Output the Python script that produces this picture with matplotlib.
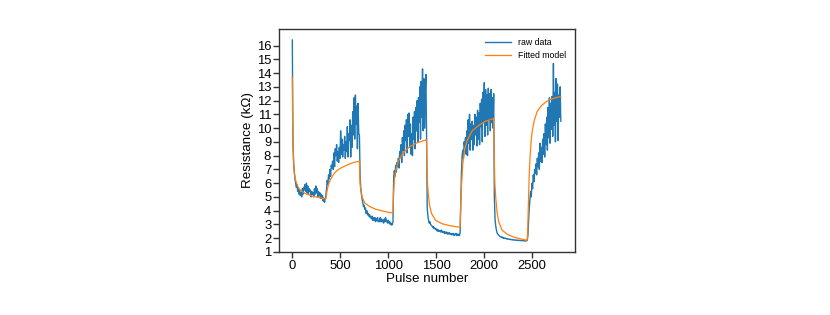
import numpy as np
import matplotlib
matplotlib.use("Agg")
import matplotlib.pyplot as plt

plt.rcParams['font.family'] = ['Liberation Sans', 'DejaVu Sans']

# ---------------- data ----------------
raw_step = 7  # pulse spacing of sampled raw points

raw_seg1 = [16.4, 8.9, 7.4, 6.8, 6.3, 6.0, 5.7, 5.9, 5.4, 5.6, 5.2, 5.5, 5.1, 5.3, 5.0, 5.6, 5.2, 5.7, 5.5, 5.9,
            5.4, 6.0, 5.3, 5.8, 5.2, 5.6, 5.4, 5.5, 5.0, 5.4, 5.2, 5.3, 5.0, 5.6, 5.2, 5.8, 5.3, 5.6, 5.0, 5.4,
            5.1, 5.3, 4.9, 5.2, 4.9, 5.1, 4.7, 4.9, 4.6, 4.9]
raw_seg2 = [5.1, 5.6, 6.2, 5.9, 6.6, 6.3, 7.0, 6.5, 7.3, 7.1, 7.6, 7.0, 8.2, 7.2, 8.5, 8.0, 8.8, 7.6, 8.3, 7.5,
            8.6, 7.8, 9.8, 8.1, 9.2, 7.9, 8.8, 8.4, 9.4, 7.8, 9.0, 8.3, 10.1, 7.9, 9.6, 9.1, 10.6, 7.9, 10.2, 8.6,
            11.2, 9.5, 12.2, 9.2, 12.4, 10.3, 11.6, 8.5, 11.8, 9.6]
raw_seg3 = [9.5, 6.5, 5.6, 5.2, 4.8, 4.6, 4.3, 4.4, 4.1, 4.2, 3.8, 4.0, 3.7, 3.8, 3.6, 3.7, 3.5, 3.6, 3.4, 3.6,
            3.3, 3.5, 3.3, 3.5, 3.2, 3.4, 3.3, 3.5, 3.2, 3.3, 3.2, 3.5, 3.2, 3.4, 3.2, 3.3, 3.1, 3.4, 3.2, 3.5,
            3.2, 3.3, 3.1, 3.3, 3.1, 3.2, 3.0, 3.1, 2.95, 3.0]
raw_seg4 = [3.2, 6.4, 6.9, 6.5, 7.3, 6.8, 7.5, 7.2, 7.8, 7.1, 8.3, 7.9, 8.8, 7.5, 9.3, 8.4, 9.8, 8.0, 10.2, 9.1,
            10.6, 8.2, 11.0, 9.4, 11.1, 8.6, 10.3, 8.1, 9.6, 8.0, 10.8, 9.2, 11.2, 8.5, 11.5, 9.8, 12.0, 9.0, 12.2, 10.4,
            13.0, 9.2, 13.4, 10.8, 14.3, 9.8, 13.6, 10.0, 12.5, 13.9]
raw_seg5 = [9.5, 4.2, 3.6, 3.3, 3.1, 3.2, 3.0, 2.95, 2.9, 2.8, 2.85, 2.7, 2.75, 2.65, 2.7, 2.55, 2.65, 2.5, 2.6, 2.5,
            2.55, 2.45, 2.6, 2.45, 2.5, 2.4, 2.5, 2.35, 2.45, 2.35, 2.45, 2.3, 2.4, 2.3, 2.4, 2.3, 2.35, 2.25, 2.35, 2.25,
            2.35, 2.2, 2.3, 2.25, 2.35, 2.2, 2.3, 2.2, 2.3, 2.2]
raw_seg6 = [2.4, 4.5, 6.8, 8.0, 8.4, 7.8, 9.0, 8.6, 9.3, 8.1, 9.8, 8.0, 10.6, 8.9, 11.0, 8.4, 10.3, 9.2, 10.5, 8.4,
            10.2, 8.8, 11.0, 9.5, 10.8, 8.7, 11.3, 9.2, 11.1, 8.8, 11.8, 10.1, 12.1, 9.0, 12.6, 10.4, 13.3, 9.4, 12.8, 10.2,
            12.4, 9.5, 12.9, 10.6, 12.5, 9.8, 12.8, 10.4, 12.2, 10.0]
raw_seg7 = [12.5, 5.0, 3.4, 2.9, 2.6, 2.4, 2.3, 2.25, 2.2, 2.15, 2.1, 2.1, 2.05, 2.08, 2.0, 2.05, 2.0, 1.98, 2.0, 1.95,
            1.97, 1.93, 1.95, 1.92, 1.93, 1.9, 1.92, 1.88, 1.9, 1.87, 1.89, 1.86, 1.88, 1.85, 1.87, 1.84, 1.86, 1.84, 1.85, 1.83,
            1.85, 1.82, 1.84, 1.82, 1.83, 1.81, 1.82, 1.8, 1.81, 1.8]
raw_seg8 = [1.85, 2.2, 3.3, 4.2, 4.8, 5.4, 5.0, 6.0, 5.6, 6.6, 6.1, 7.0, 6.7, 7.4, 6.6, 7.8, 7.2, 8.2, 7.0, 8.9,
            7.6, 8.6, 7.5, 9.2, 8.1, 9.6, 7.9, 10.3, 8.8, 10.8, 8.4, 11.5, 9.3, 12.2, 8.9, 11.8, 9.9, 12.3, 9.4, 14.7,
            10.2, 12.6, 9.0, 13.6, 10.5, 13.2, 9.1, 12.4, 10.8, 13.0, 10.5]

fit_pulse = [0, 3, 7, 12, 18, 25, 37, 55, 75, 100, 143, 212, 282, 345,
             350, 360, 370, 380, 400, 430, 470, 520, 580, 640, 700,
             703, 708, 717, 730, 757, 807, 873, 957, 1050,
             1055, 1065, 1079, 1105, 1155, 1222, 1306, 1400,
             1404, 1410, 1417, 1431, 1452, 1494, 1563, 1650, 1750,
             1755, 1764, 1778, 1796, 1823, 1876, 1945, 2015, 2100,
             2105, 2112, 2121, 2135, 2152, 2187, 2239, 2309, 2378, 2450,
             2456, 2462, 2470, 2480, 2490, 2500, 2525, 2553, 2600, 2655, 2720, 2800]
fit_value = [13.7, 11.0, 9.0, 7.8, 7.0, 6.55, 6.15, 5.8, 5.55, 5.4, 5.22, 5.05, 4.95, 4.85,
             4.85, 5.35, 5.7, 5.95, 6.3, 6.65, 6.95, 7.15, 7.35, 7.5, 7.6,
             6.5, 5.9, 5.4, 4.95, 4.55, 4.3, 4.1, 3.95, 3.83,
             5.2, 6.3, 6.9, 7.6, 8.2, 8.65, 8.95, 9.15,
             7.0, 6.0, 5.3, 4.4, 3.8, 3.3, 3.05, 2.9, 2.8,
             4.2, 5.8, 7.4, 8.4, 9.1, 9.8, 10.2, 10.5, 10.7,
             8.0, 6.0, 5.0, 3.9, 3.2, 2.6, 2.3, 2.08, 1.96, 1.85,
             2.8, 4.5, 6.5, 8.0, 9.0, 9.7, 10.6, 11.2, 11.65, 11.95, 12.15, 12.3]

x_ticks = [0, 500, 1000, 1500, 2000, 2500]
y_ticks = list(range(1, 17))

raw_value = np.array(raw_seg1 + raw_seg2 + raw_seg3 + raw_seg4 + raw_seg5 + raw_seg6 + raw_seg7 + raw_seg8)
raw_pulse = np.arange(len(raw_value)) * raw_step

# ---------------- plot ----------------
fig = plt.figure(figsize=(8.3, 3.15), dpi=100)
ax = fig.add_axes([0.336, 0.2, 0.357, 0.708])

ax.plot(raw_pulse, raw_value, color='#1f77b4', lw=1.0, label='raw data')
ax.plot(fit_pulse, fit_value, color='#ff7f0e', lw=0.9, label='Fitted model')

ax.set_xlim(-140, 2950)
ax.set_ylim(1, 17.2)
ax.set_xticks(x_ticks)
ax.set_yticks(y_ticks)

ax.set_xlabel('Pulse number', fontsize=9.6, labelpad=1)
ax.set_ylabel('Resistance (k\u03a9)', fontsize=9.6, labelpad=2)

for s in ax.spines.values():
    s.set_color('#333333')
    s.set_linewidth(1.0)
ax.tick_params(axis='both', direction='out', length=4, width=1, color='#333333',
               labelsize=9.4, pad=1.5, labelcolor='black')

ax.legend(loc='upper right', frameon=False, fontsize=6.3, handlelength=3.0,
          borderaxespad=0.6, labelspacing=0.5)

fig.savefig('out.png', dpi=100)
